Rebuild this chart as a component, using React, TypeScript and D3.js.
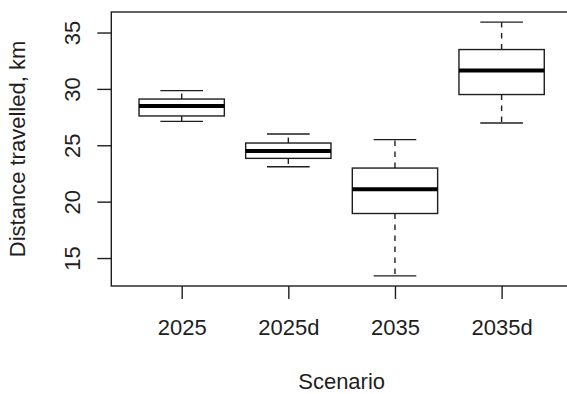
import * as d3 from "d3";
import React, { useEffect, useRef } from "react";

const scenarios = ["2025", "2025d", "2035", "2035d"];
const whiskerLow = [27.12, 23.1, 13.42, 26.98];
const lowerQuartile = [27.6, 23.84, 18.95, 29.5];
const medians = [28.49, 24.5, 21.1, 31.63];
const upperQuartile = [29.1, 25.2, 22.98, 33.49];
const whiskerHigh = [29.85, 26.0, 25.5, 35.92];
const yTicks = [15, 20, 25, 30, 35];

const App = () => {
  const width = 567;
  const height = 394;
  const ref = useRef<SVGSVGElement>(null);

  useEffect(() => {
    const svg = d3.select(ref.current);
    svg.selectAll("*").remove();

    const font = "'Liberation Sans', Arial, sans-serif";
    const ink = "#1e1e1e";
    const plot = { left: 111.3, top: 12, right: 572, bottom: 286 };

    // R style: 4% padding around the data range
    const n = scenarios.length;
    const xPad = 0.04 * n;
    const x = d3
      .scaleLinear()
      .domain([0.5 - xPad, n + 0.5 + xPad])
      .range([plot.left, plot.right]);

    const lo = d3.min(whiskerLow) as number;
    const hi = d3.max(whiskerHigh) as number;
    const yPad = 0.04 * (hi - lo);
    const y = d3
      .scaleLinear()
      .domain([lo - yPad, hi + yPad])
      .range([plot.bottom, plot.top]);

    const boxW = x(1.4) - x(1);
    const stapleW = boxW / 2;

    const g = svg.append("g");

    // boxes
    scenarios.forEach((s, i) => {
      const cx = x(i + 1);
      const dash = "5.5,5.5";
      g.append("line")
        .attr("x1", cx).attr("x2", cx)
        .attr("y1", y(upperQuartile[i])).attr("y2", y(whiskerHigh[i]))
        .attr("stroke", ink).attr("stroke-width", 1.4)
        .attr("stroke-dasharray", dash);
      g.append("line")
        .attr("x1", cx).attr("x2", cx)
        .attr("y1", y(lowerQuartile[i])).attr("y2", y(whiskerLow[i]))
        .attr("stroke", ink).attr("stroke-width", 1.4)
        .attr("stroke-dasharray", dash);
      [whiskerHigh[i], whiskerLow[i]].forEach((v) => {
        g.append("line")
          .attr("x1", cx - stapleW).attr("x2", cx + stapleW)
          .attr("y1", y(v)).attr("y2", y(v))
          .attr("stroke", ink).attr("stroke-width", 1.4);
      });
      g.append("rect")
        .attr("x", cx - boxW)
        .attr("y", y(upperQuartile[i]))
        .attr("width", boxW * 2)
        .attr("height", y(lowerQuartile[i]) - y(upperQuartile[i]))
        .attr("fill", "white")
        .attr("stroke", ink).attr("stroke-width", 1.4);
      g.append("line")
        .attr("x1", cx - boxW).attr("x2", cx + boxW)
        .attr("y1", y(medians[i])).attr("y2", y(medians[i]))
        .attr("stroke", "black").attr("stroke-width", 4);
    });

    // frame
    svg.append("rect")
      .attr("x", plot.left).attr("y", plot.top)
      .attr("width", plot.right - plot.left)
      .attr("height", plot.bottom - plot.top)
      .attr("fill", "none")
      .attr("stroke", ink).attr("stroke-width", 1.4);

    // y axis
    const yAxisG = svg
      .append("g")
      .attr("transform", `translate(${plot.left},0)`)
      .call(d3.axisLeft(y).tickValues(yTicks).tickSize(14).tickFormat(d3.format("d")));
    yAxisG.select(".domain").remove();
    yAxisG.selectAll(".tick line").attr("stroke", ink).attr("stroke-width", 1.4);
    yAxisG
      .selectAll(".tick text")
      .attr("x", null).attr("dy", null)
      .attr("transform", "translate(-31,0) rotate(-90)")
      .attr("text-anchor", "middle")
      .attr("fill", ink)
      .style("font-family", font)
      .style("font-size", "22px");

    // x axis
    const xAxisG = svg
      .append("g")
      .attr("transform", `translate(0,${plot.bottom})`)
      .call(
        d3.axisBottom(x)
          .tickValues(scenarios.map((_, i) => i + 1))
          .tickSize(13)
          .tickFormat((d) => scenarios[(d as number) - 1])
      );
    xAxisG.select(".domain").remove();
    xAxisG.selectAll(".tick line").attr("stroke", ink).attr("stroke-width", 1.4);
    xAxisG
      .selectAll(".tick text")
      .attr("y", 49).attr("dy", null)
      .attr("fill", ink)
      .style("font-family", font)
      .style("font-size", "22px");

    svg.append("text")
      .attr("x", (plot.left + plot.right) / 2)
      .attr("y", 389)
      .attr("text-anchor", "middle")
      .attr("fill", ink)
      .style("font-family", font)
      .style("font-size", "22px")
      .text("Scenario");

    svg.append("text")
      .attr("transform", `translate(25,${(plot.top + plot.bottom) / 2}) rotate(-90)`)
      .attr("text-anchor", "middle")
      .attr("fill", ink)
      .style("font-family", font)
      .style("font-size", "22px")
      .text("Distance travelled, km");
  }, []);

  return (
    <svg
      ref={ref}
      width={width}
      height={height}
      style={{ position: "absolute", left: 0, top: 0, background: "white" }}
    ></svg>
  );
};

export default App;
